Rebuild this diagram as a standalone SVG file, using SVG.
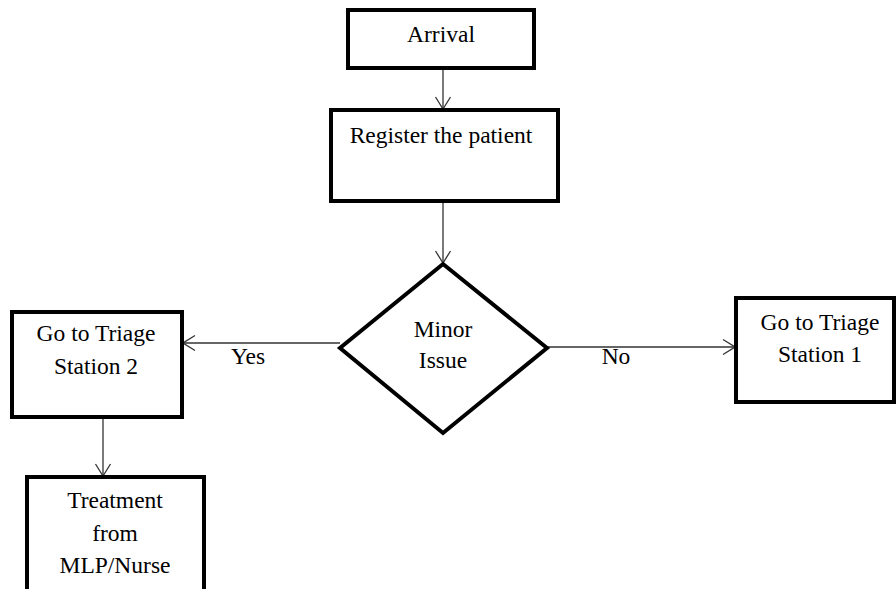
<svg xmlns="http://www.w3.org/2000/svg" width="896" height="589" viewBox="0 0 896 589">
<style>
.box{fill:#fff;stroke:#000;stroke-width:4}
.t{font-family:"Liberation Serif","Times New Roman",serif;font-size:23.5px;fill:#000;text-anchor:middle}
.c{fill:none;stroke:#333;stroke-width:1.3}
</style>
<defs>
<marker id="arr" viewBox="0 0 14 18" refX="13" refY="9" markerWidth="14" markerHeight="18" markerUnits="userSpaceOnUse" orient="auto">
<path d="M1,1.5 L13,9 L1,16.5" fill="none" stroke="#333" stroke-width="1.3"/>
</marker>
</defs>
<rect width="896" height="589" fill="#fff"/>
<g id="connectors">
<line class="c" x1="443" y1="68" x2="443" y2="109" marker-end="url(#arr)"/>
<line class="c" x1="443" y1="201" x2="443" y2="263" marker-end="url(#arr)"/>
<line class="c" x1="340" y1="343" x2="183" y2="343" marker-end="url(#arr)"/>
<line class="c" x1="547" y1="347" x2="735" y2="347" marker-end="url(#arr)"/>
<line class="c" x1="103" y1="417" x2="103" y2="476" marker-end="url(#arr)"/>
<text class="t" x="248" y="364">Yes</text>
<text class="t" x="616" y="364">No</text>
</g>
<g id="arrival">
<rect class="box" x="348" y="10" width="186" height="58"/>
<text class="t" x="441" y="42">Arrival</text>
</g>
<g id="register">
<rect class="box" x="331" y="110" width="227" height="91"/>
<text class="t" x="441" y="143">Register the patient</text>
</g>
<g id="decision">
<polygon class="box" points="443,264 547,348 443,433 340,348"/>
<text class="t" x="443" y="337">Minor</text>
<text class="t" x="443" y="368">Issue</text>
</g>
<g id="triage2">
<rect class="box" x="12" y="312" width="170" height="105"/>
<text class="t" x="96" y="341">Go to Triage</text>
<text class="t" x="96" y="374">Station 2</text>
</g>
<g id="triage1">
<rect class="box" x="736" y="298" width="158" height="104"/>
<text class="t" x="820" y="330">Go to Triage</text>
<text class="t" x="820" y="362">Station 1</text>
</g>
<g id="treatment">
<rect class="box" x="27" y="477" width="177" height="120"/>
<text class="t" x="115" y="508">Treatment</text>
<text class="t" x="115" y="541">from</text>
<text class="t" x="115" y="573">MLP/Nurse</text>
</g>
</svg>
